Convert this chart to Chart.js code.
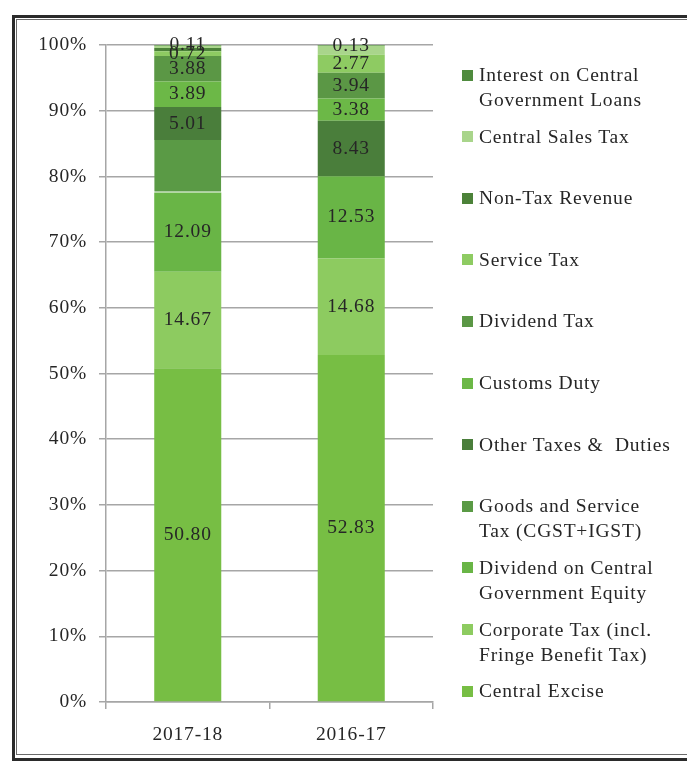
<!DOCTYPE html>
<html>
<head>
<meta charset="utf-8">
<script src="https://cdn.jsdelivr.net/npm/chart.js@4.4.1/dist/chart.umd.min.js"></script>
<style>
  html, body { margin: 0; padding: 0; background: #fff; }
  #wrap { position: relative; width: 687px; height: 763px; overflow: hidden; background: #fff; }
  #c { position: absolute; left: 0; top: 0; }
  .frameOuter { position: absolute; left: 12px; top: 15px; width: 700px; height: 740px; border: 3px solid #2b2b2b; pointer-events: none; }
  .frameInner { position: absolute; left: 16px; top: 19px; width: 700px; height: 734px; border: 1px solid #6a6a6a; pointer-events: none; }
  .lg { position: absolute; font-family: "Liberation Serif", serif; font-size: 19.5px; letter-spacing: 0.8px; line-height: 25px; color: #262626; white-space: nowrap; }
  .lgbox { position: absolute; width: 11px; height: 11px; }
</style>
</head>
<body>
<div id="wrap">
  <canvas id="c" width="687" height="763"></canvas>
  <div class="frameOuter"></div>
  <div class="frameInner"></div>
  <div id="legend"></div>
</div>
<script>
// ---- Data ----
const categories = ['2017-18', '2016-17'];

const seriesNames = [
  'Central Excise',
  'Corporate Tax (incl.\nFringe Benefit Tax)',
  'Dividend on Central\nGovernment Equity',
  'Goods and Service\nTax (CGST+IGST)',
  'Other Taxes &  Duties',
  'Customs Duty',
  'Dividend Tax',
  'Service Tax',
  'Non-Tax Revenue',
  'Central Sales Tax',
  'Interest on Central\nGovernment Loans'
];

const centralExcise      = [50.80, 52.83];
const corporateTax       = [14.67, 14.68];
const dividendOnEquity   = [12.09, 12.53];
const goodsServiceTax    = [7.98, 0];
const otherTaxesDuties   = [5.01, 8.43];
const customsDuty        = [3.89, 3.38];
const dividendTax        = [3.88, 3.94];
const serviceTax         = [0.72, 2.77];
const nonTaxRevenue      = [0.50, 0];
const centralSalesTax    = [0.35, 1.31];
const interestOnLoans    = [0.11, 0.13];

const seriesValues = [
  centralExcise, corporateTax, dividendOnEquity, goodsServiceTax, otherTaxesDuties,
  customsDuty, dividendTax, serviceTax, nonTaxRevenue, centralSalesTax, interestOnLoans
];

// which values carry a printed label in the reference
const labelShown = [
  [true, true], [true, true], [true, true], [false, false], [true, true],
  [true, true], [true, true], [true, true], [false, false], [false, false], [true, true]
];

const yTicks = [0, 10, 20, 30, 40, 50, 60, 70, 80, 90, 100];

// ---- Styles ----
const seriesColors = [
  '#77BE44', '#8DCB60', '#69B546', '#5A9A45', '#4A7E3B',
  '#6CB847', '#5B9745', '#8ECB62', '#4C8239', '#A9D58B', '#4F8B3E'
];

const FONT = { family: '"Liberation Serif", serif', size: 19.5 };
const TEXT = '#262626';
const AXIS = '#A6A6A6';
const SPACING = '0.8px';

const spacingPlugin = {
  id: 'spacing',
  beforeUpdate(chart) { chart.ctx.letterSpacing = SPACING; },
  beforeDraw(chart) { chart.ctx.letterSpacing = SPACING; }
};

const valueLabels = {
  id: 'valueLabels',
  afterDatasetsDraw(chart) {
    const ctx = chart.ctx;
    ctx.save();
    ctx.letterSpacing = SPACING;
    ctx.font = FONT.size + 'px ' + FONT.family;
    ctx.fillStyle = TEXT;
    ctx.textAlign = 'center';
    ctx.textBaseline = 'middle';
    chart.data.datasets.forEach((ds, i) => {
      const meta = chart.getDatasetMeta(i);
      meta.data.forEach((el, j) => {
        if (!labelShown[i][j]) return;
        const v = ds.data[j];
        const yc = (el.y + el.base) / 2;
        ctx.fillText(v.toFixed(2), el.x, yc);
      });
    });
    ctx.restore();
  }
};

const datasets = seriesNames.map((name, i) => ({
  label: name.replace('\n', ' '),
  data: seriesValues[i],
  backgroundColor: seriesColors[i],
  borderColor: 'rgba(255,255,255,0.55)',
  borderWidth: i === 3 ? { top: 0, bottom: 1, left: 0, right: 0 } : 0,
  borderSkipped: false,
  barPercentage: 0.41,
  categoryPercentage: 1.0
}));

const chart = new Chart(document.getElementById('c'), {
  type: 'bar',
  data: { labels: categories, datasets },
  options: {
    responsive: false,
    animation: false,
    layout: { padding: { top: 45, right: 254, bottom: 0, left: 0 } },
    plugins: { legend: { display: false }, tooltip: { enabled: false } },
    scales: {
      x: {
        stacked: true,
        offset: true,
        grid: { offset: true, drawOnChartArea: false, drawTicks: true, tickLength: 7, color: AXIS, lineWidth: 1.5 },
        border: { color: AXIS, width: 1.5 },
        ticks: { color: TEXT, font: FONT, padding: 14 },
        afterFit(s) { s.height = 61; }
      },
      y: {
        stacked: true,
        min: 0, max: 100,
        afterBuildTicks(s) { s.ticks = yTicks.map(v => ({ value: v })); },
        grid: { color: AXIS, lineWidth: 1.5, tickLength: 7 },
        border: { color: AXIS, width: 1.5 },
        ticks: { color: TEXT, font: FONT, padding: 12, callback: v => v + '%' },
        afterFit(s) { s.width = 106; }
      }
    }
  },
  plugins: [spacingPlugin, valueLabels]
});

// ---- HTML legend (reverse order, like the reference) ----
const legendEl = document.getElementById('legend');
const order = seriesNames.map((n, i) => i).reverse();
order.forEach((idx, row) => {
  const center = 75 + 61.62 * row;
  const box = document.createElement('div');
  box.className = 'lgbox';
  box.style.left = '462px';
  box.style.top = (center - 5.5) + 'px';
  box.style.background = seriesColors[idx];
  legendEl.appendChild(box);
  const txt = document.createElement('div');
  txt.className = 'lg';
  txt.style.left = '479px';
  txt.style.top = (center - 13) + 'px';
  txt.innerHTML = seriesNames[idx].split('\n').map(s => s.replace(/&/g, '&amp;').replace(/ {2}/g, ' &nbsp;')).join('<br>');
  legendEl.appendChild(txt);
});
</script>
</body>
</html>
